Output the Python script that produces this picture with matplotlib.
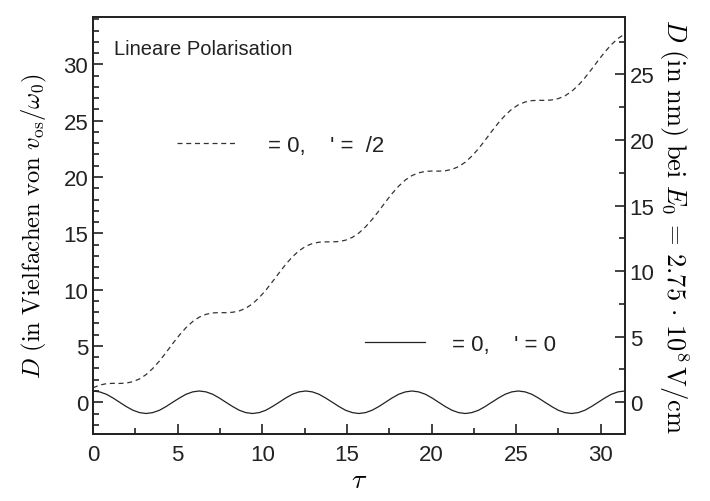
import numpy as np
import matplotlib
matplotlib.use("Agg")
import matplotlib.pyplot as plt
from matplotlib.ticker import MultipleLocator

plt.rcParams["font.family"] = ["Liberation Sans", "DejaVu Sans"]
plt.rcParams["mathtext.fontset"] = "cm"

# tau in units of the laser period phase (0 .. 10 pi)
tau = [0.00, 0.39, 0.79, 1.18, 1.57, 1.96, 2.36, 2.75, 3.14, 3.53,
       3.93, 4.32, 4.71, 5.11, 5.50, 5.89, 6.28, 6.68, 7.07, 7.46,
       7.85, 8.25, 8.64, 9.03, 9.42, 9.82, 10.21, 10.60, 11.00, 11.39,
       11.78, 12.17, 12.57, 12.96, 13.35, 13.74, 14.14, 14.53, 14.92, 15.32,
       15.71, 16.10, 16.49, 16.89, 17.28, 17.67, 18.06, 18.46, 18.85, 19.24,
       19.64, 20.03, 20.42, 20.81, 21.21, 21.60, 21.99, 22.38, 22.78, 23.17,
       23.56, 23.96, 24.35, 24.74, 25.13, 25.53, 25.92, 26.31, 26.70, 27.10,
       27.49, 27.88, 28.27, 28.67, 29.06, 29.45, 29.85, 30.24, 30.63, 31.02,
       31.42]

# phi = 0, phi' = 0
d_solid = [1.00, 0.92, 0.71, 0.38, 0.00, -0.38, -0.71, -0.92, -1.00, -0.92,
           -0.71, -0.38, 0.00, 0.38, 0.71, 0.92, 1.00, 0.92, 0.71, 0.38,
           0.00, -0.38, -0.71, -0.92, -1.00, -0.92, -0.71, -0.38, 0.00, 0.38,
           0.71, 0.92, 1.00, 0.92, 0.71, 0.38, 0.00, -0.38, -0.71, -0.92,
           -1.00, -0.92, -0.71, -0.38, 0.00, 0.38, 0.71, 0.92, 1.00, 0.92,
           0.71, 0.38, 0.00, -0.38, -0.71, -0.92, -1.00, -0.92, -0.71, -0.38,
           0.00, 0.38, 0.71, 0.92, 1.00, 0.92, 0.71, 0.38, 0.00, -0.38,
           -0.71, -0.92, -1.00, -0.92, -0.71, -0.38, 0.00, 0.38, 0.71, 0.92,
           1.00]

# phi = 0, phi' = pi/2
d_dashed = [1.28, 1.52, 1.65, 1.68, 1.67, 1.70, 1.83, 2.07, 2.46, 3.00,
            3.67, 4.42, 5.21, 5.97, 6.63, 7.17, 7.56, 7.81, 7.93, 7.96,
            7.95, 7.99, 8.11, 8.35, 8.74, 9.29, 9.95, 10.70, 11.50, 12.25,
            12.91, 13.45, 13.85, 14.09, 14.21, 14.24, 14.24, 14.27, 14.39, 14.64,
            15.03, 15.57, 16.23, 16.99, 17.78, 18.53, 19.19, 19.74, 20.13, 20.37,
            20.50, 20.53, 20.52, 20.55, 20.68, 20.92, 21.31, 21.85, 22.52, 23.27,
            24.06, 24.82, 25.48, 26.02, 26.41, 26.66, 26.78, 26.81, 26.80, 26.84,
            26.96, 27.20, 27.59, 28.14, 28.80, 29.55, 30.35, 31.10, 31.76, 32.30,
            32.70]

# greek glyphs are missing in the original rendering, keep the gaps
lab_dashed = "= 0,    ' =  /2"
lab_solid = "= 0,    ' = 0"
NM_PER_UNIT = 0.859  # right axis scale factor

YLIM = (-2.84, 34.2)
INK = "#222222"

fig = plt.figure(figsize=(7.10, 5.02), dpi=100)
ax = fig.add_axes([0.131, 0.133, 0.749, 0.831])

l_dash, = ax.plot(tau, d_dashed, color="#333333", lw=0.9, ls=(0, (4, 3)))
l_sol, = ax.plot(tau, d_solid, color=INK, lw=0.9)

ax.set_xlim(0, 31.42)
ax.set_ylim(*YLIM)
ax.xaxis.set_major_locator(MultipleLocator(5))
ax.xaxis.set_minor_locator(MultipleLocator(2.5))
ax.yaxis.set_major_locator(MultipleLocator(5))
ax.yaxis.set_minor_locator(MultipleLocator(1))
ax.tick_params(which="both", direction="in", right=False, top=False,
               labelsize=16, width=1.2, colors=INK)
ax.tick_params(which="major", length=7)
ax.tick_params(which="minor", length=4)
ax.tick_params(axis="x", pad=7)
for s in ax.spines.values():
    s.set_linewidth(1.3)
    s.set_color(INK)

ax2 = ax.twinx()
ax2.set_ylim(YLIM[0] * NM_PER_UNIT, YLIM[1] * NM_PER_UNIT)
ax2.yaxis.set_major_locator(MultipleLocator(5))
ax2.yaxis.set_minor_locator(MultipleLocator(2.5))
ax2.tick_params(which="both", direction="in", labelsize=16, width=1.2, colors=INK)
ax2.tick_params(which="major", length=7)
ax2.tick_params(which="minor", length=4)
for s in ax2.spines.values():
    s.set_linewidth(1.3)
    s.set_color(INK)

ax.set_xlabel(r"$\tau$", fontsize=20)
ax.xaxis.set_label_coords(0.5, -0.078)
ax.set_ylabel(r"$D\ \mathrm{(in\ Vielfachen\ von\ }v_{\mathrm{os}}/\omega_0\mathrm{)}$",
              fontsize=17.7, labelpad=10)
ax2.set_ylabel(r"$D\ \mathrm{(in\ nm)\ bei\ }E_0\, =\, 2.75\,\cdot\, 10^8\,\mathrm{V/cm}$",
               fontsize=19, rotation=270, labelpad=26)

ax.text(0.04, 0.925, "Lineare Polarisation", transform=ax.transAxes,
        fontsize=14.5, va="center", ha="left", color=INK)

leg1 = ax.legend([l_dash], [lab_dashed], loc="center left", bbox_to_anchor=(0.12, 0.693),
                 frameon=False, fontsize=16, handlelength=2.6, handletextpad=1.5,
                 labelcolor=INK)
ax.add_artist(leg1)
ax.legend([l_sol], [lab_solid], loc="center left", bbox_to_anchor=(0.473, 0.216),
          frameon=False, fontsize=16, handlelength=2.7, handletextpad=1.25,
          labelcolor=INK)

fig.savefig("out.png", dpi=100)
